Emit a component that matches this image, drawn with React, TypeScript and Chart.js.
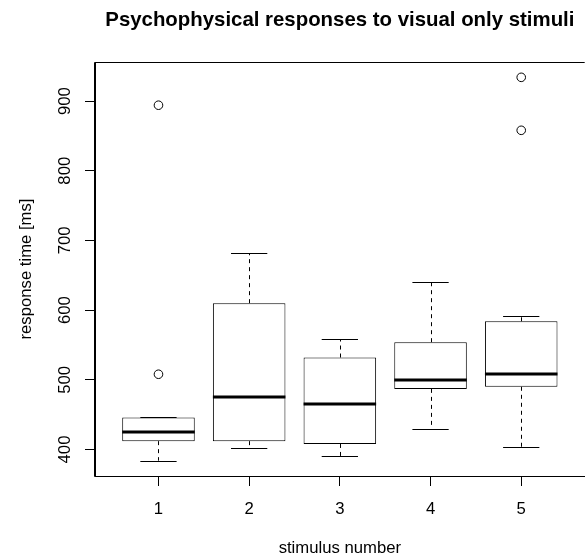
import { useEffect, useRef } from "react";
import { Chart, registerables } from "chart.js";

Chart.register(...registerables);

// ---- data ----
const stimuli = [1, 2, 3, 4, 5];
const lowerWhisker = [384, 402, 390, 430, 404];
const q1 = [412, 412, 408, 487, 490];
const median = [425, 475, 465, 500, 508];
const q3 = [446, 610, 532, 554, 584];
const upperWhisker = [446, 682, 558, 640, 591];
const outlierStimulus = [1, 1, 5, 5];
const outlierValue = [894, 508, 934, 858];
const xTicks = [1, 2, 3, 4, 5];
const yTicks = [400, 500, 600, 700, 800, 900];
const mainTitle = "Psychophysical responses to visual only stimuli";
const xTitle = "stimulus number";
const yTitle = "response time [ms]";

const FONT = "'Liberation Sans', Arial, Helvetica, sans-serif";
const BOX_HALF = 0.4;
const CAP_HALF = 0.2;

// R-like axis ranges (4% extension)
const dataLo = Math.min(...lowerWhisker, ...outlierValue);
const dataHi = Math.max(...upperWhisker, ...outlierValue);
const yPad = (dataHi - dataLo) * 0.04;
const xLo = 0.5 - 0.04 * stimuli.length;
const xHi = stimuli.length + 0.5 + 0.04 * stimuli.length;

const boxPlugin = {
  id: "rBoxplot",
  afterDatasetsDraw(chart: any) {
    const { ctx, chartArea, scales } = chart;
    const x = scales.x;
    const y = scales.y;
    const a = (v: number) => Math.round(v) + 0.5;
    const seg = (x1: number, y1: number, x2: number, y2: number) => {
      ctx.beginPath();
      ctx.moveTo(x1, y1);
      ctx.lineTo(x2, y2);
      ctx.stroke();
    };
    ctx.save();
    ctx.strokeStyle = "#000";
    stimuli.forEach((s, i) => {
      const cx = a(x.getPixelForValue(s));
      const bl = x.getPixelForValue(s - BOX_HALF);
      const br = x.getPixelForValue(s + BOX_HALF);
      const cl = x.getPixelForValue(s - CAP_HALF);
      const cr = x.getPixelForValue(s + CAP_HALF);
      // dashed whiskers
      ctx.lineWidth = 1;
      ctx.setLineDash([4, 4]);
      seg(cx, y.getPixelForValue(q3[i]), cx, y.getPixelForValue(upperWhisker[i]));
      seg(cx, y.getPixelForValue(q1[i]), cx, y.getPixelForValue(lowerWhisker[i]));
      ctx.setLineDash([]);
      // staples
      seg(cl, a(y.getPixelForValue(upperWhisker[i])), cr, a(y.getPixelForValue(upperWhisker[i])));
      seg(cl, a(y.getPixelForValue(lowerWhisker[i])), cr, a(y.getPixelForValue(lowerWhisker[i])));
      // median
      ctx.lineWidth = 3;
      seg(bl, Math.round(y.getPixelForValue(median[i])), br, Math.round(y.getPixelForValue(median[i])));
    });
    // plot box edges
    ctx.lineWidth = 1;
    const L = Math.round(chartArea.left) - 0.5;
    const T = Math.round(chartArea.top) + 0.5;
    const B = Math.round(chartArea.bottom) + 0.5;
    seg(L, T, chartArea.right, T);
    seg(L, T, L, B);
    seg(L, B, chartArea.right, B);
    seg(a(chartArea.right), T, a(chartArea.right), B);
    ctx.restore();
  },
  afterDraw(chart: any) {
    const { ctx, chartArea } = chart;
    const cx = (chartArea.left + chartArea.right) / 2;
    const cy = (chartArea.top + chartArea.bottom) / 2;
    ctx.save();
    ctx.fillStyle = "#000";
    ctx.textAlign = "center";
    ctx.textBaseline = "alphabetic";
    ctx.font = `bold 20.4px ${FONT}`;
    ctx.fillText(mainTitle, cx, 26);
    ctx.font = `16.7px ${FONT}`;
    ctx.fillText(xTitle, cx, 553);
    ctx.translate(31, cy);
    ctx.rotate(-Math.PI / 2);
    ctx.fillText(yTitle, 0, 0);
    ctx.restore();
  },
};

export default function App() {
  const ref = useRef<HTMLCanvasElement | null>(null);

  useEffect(() => {
    if (!ref.current) return;
    Chart.defaults.font.family = FONT;
    const chart = new Chart(ref.current, {
      type: "bar",
      data: {
        datasets: [
          {
            type: "bar",
            data: stimuli.map((s, i) => ({ x: s, y: [q1[i], q3[i]] })) as any,
            backgroundColor: "#ffffff",
            borderColor: "#000000",
            borderWidth: 1,
            borderSkipped: false,
            barPercentage: BOX_HALF * 2,
            categoryPercentage: 1,
          } as any,
          {
            type: "scatter",
            data: outlierStimulus.map((s, i) => ({ x: s, y: outlierValue[i] })),
            pointStyle: "circle",
            pointRadius: 4.3,
            pointBorderWidth: 1,
            borderColor: "#000000",
            backgroundColor: "rgba(0,0,0,0)",
            showLine: false,
          } as any,
        ],
      },
      options: {
        animation: false,
        responsive: false,
        events: [],
        layout: { padding: { top: 62, right: 1, left: 0, bottom: 0 } },
        plugins: {
          legend: { display: false },
          tooltip: { enabled: false },
          title: { display: false },
        },
        scales: {
          x: {
            type: "linear",
            min: xLo,
            max: xHi,
            offset: false,
            afterBuildTicks: (sc: any) => {
              sc.ticks = xTicks.map((v) => ({ value: v }));
            },
            afterFit: (sc: any) => {
              sc.height = 84;
            },
            grid: {
              display: true,
              offset: false,
              drawOnChartArea: false,
              drawTicks: true,
              tickLength: 10,
              color: "#000",
              lineWidth: 1,
            },
            border: { display: true, color: "#000", width: 1 },
            ticks: {
              autoSkip: false,
              maxRotation: 0,
              minRotation: 0,
              padding: 13,
              color: "#000",
              font: { size: 16.7, family: FONT },
              callback: (v: any) => String(v),
            },
          },
          y: {
            type: "linear",
            min: dataLo - yPad,
            max: dataHi + yPad,
            afterBuildTicks: (sc: any) => {
              sc.ticks = yTicks.map((v) => ({ value: v }));
            },
            afterFit: (sc: any) => {
              sc.width = 95;
            },
            grid: {
              display: true,
              drawOnChartArea: false,
              drawTicks: true,
              tickLength: 10,
              color: "#000",
              lineWidth: 1,
            },
            border: { display: true, color: "#000", width: 1 },
            ticks: {
              autoSkip: false,
              minRotation: 90,
              maxRotation: 90,
              crossAlign: "center",
              padding: 6,
              color: "#000",
              font: { size: 16.7, family: FONT },
              callback: (v: any) => String(v),
            },
          },
        },
      } as any,
      plugins: [boxPlugin],
    });
    return () => chart.destroy();
  }, []);

  return (
    <div
      style={{
        position: "fixed",
        left: 0,
        top: 0,
        width: 585,
        height: 560,
        overflow: "hidden",
        background: "#fff",
      }}
    >
      <canvas ref={ref} width={590} height={560} style={{ display: "block", width: 590, height: 560 }} />
    </div>
  );
}
